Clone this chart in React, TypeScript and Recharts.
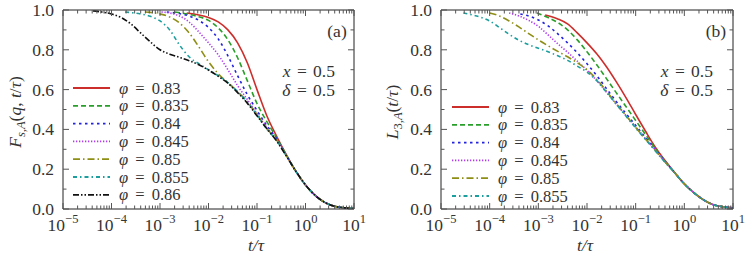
import React from "react"
import { LineChart, Line, XAxis, YAxis, Legend } from "recharts"

// points are [log10(t/tau), value]
type Pt = [number, number]

// panel (a): F_s,A(q, t/tau)
const tailA: Pt[] = [[-0.2, 0.19], [0, 0.121], [0.2, 0.068], [0.4, 0.033], [0.6, 0.014], [0.8, 0.006], [1.0, 0.002]]
const fsA083: Pt[] = [[-2.45, 0.985], [-2.2, 0.975], [-2.0, 0.962], [-1.8, 0.94], [-1.6, 0.9], [-1.4, 0.835], [-1.2, 0.735], [-1.0, 0.6], [-0.8, 0.47], [-0.6, 0.368], [-0.4, 0.275]]
const fsA0835: Pt[] = [[-2.69, 0.99], [-2.4, 0.978], [-2.2, 0.966], [-2.0, 0.948], [-1.8, 0.91], [-1.6, 0.85], [-1.4, 0.76], [-1.2, 0.645], [-1.0, 0.53], [-0.8, 0.44], [-0.6, 0.36], [-0.4, 0.274]]
const fsA084: Pt[] = [[-2.86, 0.99], [-2.6, 0.982], [-2.4, 0.97], [-2.2, 0.948], [-2.0, 0.912], [-1.8, 0.855], [-1.6, 0.77], [-1.4, 0.67], [-1.2, 0.575], [-1.0, 0.495], [-0.8, 0.42], [-0.6, 0.355], [-0.4, 0.272]]
const fsA0845: Pt[] = [[-2.97, 0.99], [-2.8, 0.985], [-2.6, 0.97], [-2.4, 0.94], [-2.2, 0.89], [-2.0, 0.835], [-1.8, 0.775], [-1.6, 0.7], [-1.4, 0.62], [-1.2, 0.55], [-1.0, 0.48], [-0.8, 0.41], [-0.6, 0.35], [-0.4, 0.27]]
const fsA085: Pt[] = [[-3.31, 0.99], [-3.0, 0.98], [-2.8, 0.965], [-2.6, 0.935], [-2.4, 0.885], [-2.2, 0.815], [-2.0, 0.74], [-1.8, 0.68], [-1.6, 0.635], [-1.4, 0.59], [-1.2, 0.54], [-1.0, 0.475], [-0.8, 0.405], [-0.6, 0.348], [-0.4, 0.27]]
const fsA0855: Pt[] = [[-3.72, 0.99], [-3.4, 0.98], [-3.2, 0.968], [-3.0, 0.945], [-2.8, 0.9], [-2.6, 0.825], [-2.4, 0.765], [-2.2, 0.73], [-2.0, 0.7], [-1.8, 0.67], [-1.6, 0.635], [-1.4, 0.59], [-1.2, 0.537], [-1.0, 0.472], [-0.8, 0.402], [-0.6, 0.346], [-0.4, 0.27]]
const fsA086: Pt[] = [[-4.38, 0.995], [-4.2, 0.99], [-4.0, 0.98], [-3.8, 0.962], [-3.6, 0.93], [-3.4, 0.885], [-3.2, 0.84], [-3.0, 0.8], [-2.8, 0.778], [-2.6, 0.762], [-2.4, 0.745], [-2.2, 0.725], [-2.0, 0.698], [-1.8, 0.667], [-1.6, 0.632], [-1.4, 0.585], [-1.2, 0.532], [-1.0, 0.468], [-0.8, 0.405], [-0.6, 0.343], [-0.4, 0.268]]

// panel (b): L_3,A(t/tau)
const tailB: Pt[] = [[-0.2, 0.183], [0, 0.126], [0.2, 0.081], [0.4, 0.045], [0.6, 0.021], [0.8, 0.011], [1.0, 0.006]]
const l3A083: Pt[] = [[-2.86, 0.975], [-2.6, 0.955], [-2.4, 0.93], [-2.2, 0.885], [-2.0, 0.835], [-1.8, 0.78], [-1.6, 0.715], [-1.4, 0.64], [-1.2, 0.56], [-1.0, 0.475], [-0.8, 0.392], [-0.6, 0.312], [-0.4, 0.245]]
const l3A0835: Pt[] = [[-3.03, 0.985], [-2.8, 0.962], [-2.6, 0.937], [-2.4, 0.9], [-2.2, 0.85], [-2.0, 0.79], [-1.8, 0.725], [-1.6, 0.655], [-1.4, 0.585], [-1.2, 0.515], [-1.0, 0.445], [-0.8, 0.375], [-0.6, 0.305], [-0.4, 0.243]]
const l3A084: Pt[] = [[-3.37, 0.98], [-3.2, 0.97], [-3.0, 0.95], [-2.8, 0.92], [-2.6, 0.88], [-2.4, 0.835], [-2.2, 0.785], [-2.0, 0.73], [-1.8, 0.67], [-1.6, 0.605], [-1.4, 0.54], [-1.2, 0.48], [-1.0, 0.42], [-0.8, 0.36], [-0.6, 0.3], [-0.4, 0.24]]
const l3A0845: Pt[] = [[-3.6, 0.985], [-3.4, 0.97], [-3.2, 0.948], [-3.0, 0.918], [-2.8, 0.875], [-2.6, 0.83], [-2.4, 0.788], [-2.2, 0.743], [-2.0, 0.697], [-1.8, 0.645], [-1.6, 0.587], [-1.4, 0.527], [-1.2, 0.47], [-1.0, 0.413], [-0.8, 0.355], [-0.6, 0.297], [-0.4, 0.238]]
const l3A085: Pt[] = [[-4.0, 0.985], [-3.8, 0.97], [-3.6, 0.945], [-3.4, 0.915], [-3.2, 0.882], [-3.0, 0.85], [-2.8, 0.82], [-2.6, 0.792], [-2.4, 0.765], [-2.2, 0.735], [-2.0, 0.7], [-1.8, 0.652], [-1.6, 0.592], [-1.4, 0.53], [-1.2, 0.47], [-1.0, 0.41], [-0.8, 0.352], [-0.6, 0.295], [-0.4, 0.237]]
const l3A0855: Pt[] = [[-4.54, 0.985], [-4.4, 0.978], [-4.2, 0.965], [-4.0, 0.945], [-3.8, 0.912], [-3.6, 0.878], [-3.4, 0.848], [-3.2, 0.826], [-3.0, 0.808], [-2.8, 0.79], [-2.6, 0.77], [-2.4, 0.747], [-2.2, 0.718], [-2.0, 0.688], [-1.8, 0.645], [-1.6, 0.587], [-1.4, 0.527], [-1.2, 0.467], [-1.0, 0.407], [-0.8, 0.35], [-0.6, 0.293], [-0.4, 0.235]]

const PHI = ["0.83", "0.835", "0.84", "0.845", "0.85", "0.855", "0.86"]
const COLORS = ["#cc2f2b", "#2a9e2a", "#2323dd", "#b03cf0", "#8e8e16", "#1c9e9e", "#111111"]
const DASHES = ["", "5 3", "2.5 3.5", "1.3 1.7", "7 3 1.5 3", "4 3 1.5 3", "6 2 1.5 2 1.5 2"]

const seriesA = [fsA083, fsA0835, fsA084, fsA0845, fsA085, fsA0855, fsA086].map((s) => [...s, ...tailA])
const seriesB = [l3A083, l3A0835, l3A084, l3A0845, l3A085, l3A0855].map((s) => [...s, ...tailB])

const DECADES = [-5, -4, -3, -2, -1, 0, 1]
const X_TICKS = DECADES.flatMap((d) => (d < 1 ? [1, 2, 3, 4, 5, 6, 7, 8, 9].map((m) => m * Math.pow(10, d)) : [Math.pow(10, d)]))
const Y_TICKS = [0, 0.1, 0.2, 0.3, 0.4, 0.5, 0.6, 0.7, 0.8, 0.9, 1.0]
const Y_LABELS = ["0.0", "0.2", "0.4", "0.6", "0.8", "1.0"]

const FONT = "'Liberation Serif', 'DejaVu Serif', serif"
const FS = 17.5
const LEG_FS = 16.5
const TICK_COLOR = "#555"
const FRAME = "#222"
const INK = "#333"

const toRows = (pts: Pt[]) => pts.map(([lt, v]) => ({ t: Math.pow(10, lt), v }))
const isDecade = (v: number) => Math.abs(Math.log10(v) - Math.round(Math.log10(v))) < 1e-6
const isMajorY = (v: number) => Math.abs(v * 5 - Math.round(v * 5)) < 1e-6

const BottomTick = (props: any) => {
  const { x, y, payload } = props
  const v = payload.value
  const major = isDecade(v)
  const e = Math.round(Math.log10(v))
  return (
    <g>
      <line x1={x} x2={x} y1={y} y2={y - (major ? 6 : 3.5)} stroke={TICK_COLOR} />
      {major && (
        <text x={x} y={y + 22} textAnchor="middle" fontFamily={FONT} fontSize={FS} fill={INK}>
          10
          <tspan dy={-8} fontSize={12.5}>{e < 0 ? `\u2212${-e}` : `${e}`}</tspan>
        </text>
      )}
    </g>
  )
}

const TopTick = (props: any) => {
  const { x, y, payload } = props
  const major = isDecade(payload.value)
  return <line x1={x} x2={x} y1={y} y2={y + (major ? 6 : 3.5)} stroke={TICK_COLOR} />
}

const LeftTick = (props: any) => {
  const { x, y, payload } = props
  const v = payload.value
  const major = isMajorY(v)
  return (
    <g>
      <line x1={x} x2={x + (major ? 6 : 3.5)} y1={y} y2={y} stroke={TICK_COLOR} />
      {major && (
        <text x={x - 9} y={y + 6} textAnchor="end" fontFamily={FONT} fontSize={FS} fill={INK}>
          {Y_LABELS[Math.round(v * 5)]}
        </text>
      )}
    </g>
  )
}

const RightTick = (props: any) => {
  const { x, y, payload } = props
  const major = isMajorY(payload.value)
  return <line x1={x} x2={x - (major ? 6 : 3.5)} y1={y} y2={y} stroke={TICK_COLOR} />
}

const makeLegend = (n: number, rowStart: number) => () => (
  <svg width={140} height={rowStart + 17.8 * n} style={{ overflow: "visible" }}>
    {PHI.slice(0, n).map((p, i) => {
      const y = rowStart + 17.8 * i
      return (
        <g key={p}>
          <line x1={3} x2={40} y1={y} y2={y} stroke={COLORS[i]} strokeWidth={1.8} strokeDasharray={DASHES[i] || undefined} />
          <text x={49} y={y + 5.5} fontFamily={FONT} fontSize={LEG_FS} fill={INK} wordSpacing={3}>
            <tspan fontStyle="italic">φ</tspan> = {p}
          </text>
        </g>
      )
    })}
  </svg>
)

type PanelProps = {
  series: Pt[][]
  width: number
  left: number
  right: number
  legendLeft: number
  legendTop: number
}

// plot area spans y 10..209 in both panels
const TOP = 10
const BOTTOM = 53

function Panel({ series, width, left, right, legendLeft, legendTop }: PanelProps) {
  return (
    <LineChart width={width} height={262} margin={{ top: 0, right: 0, bottom: 0, left: 0 }}>
      <XAxis
        xAxisId="b"
        dataKey="t"
        type="number"
        scale="log"
        domain={[1e-5, 10]}
        allowDataOverflow
        ticks={X_TICKS}
        interval={0}
        height={BOTTOM}
        tickSize={0}
        tickMargin={0}
        tickLine={false}
        tick={BottomTick}
        axisLine={{ stroke: FRAME }}
      />
      <XAxis
        xAxisId="t"
        orientation="top"
        dataKey="t"
        type="number"
        scale="log"
        domain={[1e-5, 10]}
        allowDataOverflow
        ticks={X_TICKS}
        interval={0}
        height={TOP}
        tickSize={0}
        tickMargin={0}
        tickLine={false}
        tick={TopTick}
        axisLine={{ stroke: FRAME }}
      />
      <YAxis
        yAxisId="l"
        type="number"
        domain={[0, 1]}
        allowDataOverflow
        ticks={Y_TICKS}
        interval={0}
        width={left}
        tickSize={0}
        tickMargin={0}
        tickLine={false}
        tick={LeftTick}
        axisLine={{ stroke: FRAME }}
      />
      <YAxis
        yAxisId="r"
        orientation="right"
        type="number"
        domain={[0, 1]}
        allowDataOverflow
        ticks={Y_TICKS}
        interval={0}
        width={right}
        tickSize={0}
        tickMargin={0}
        tickLine={false}
        tick={RightTick}
        axisLine={{ stroke: FRAME }}
      />
      {series.map((s, i) => (
        <Line
          key={PHI[i]}
          name={`φ = ${PHI[i]}`}
          xAxisId="b"
          yAxisId="l"
          data={toRows(s)}
          dataKey="v"
          type="monotone"
          stroke={COLORS[i]}
          strokeWidth={1.6}
          strokeDasharray={DASHES[i] || undefined}
          dot={false}
          isAnimationActive={false}
        />
      ))}
      <Legend
        layout="vertical"
        align="center"
        verticalAlign="middle"
        content={makeLegend(series.length, 10)}
        wrapperStyle={{ left: legendLeft, top: legendTop, width: 140 }}
      />
    </LineChart>
  )
}

const txt = { fontFamily: FONT, fontSize: FS, fill: INK } as const
const SUB = 12.5

export default function App() {
  return (
    <div style={{ position: "absolute", left: 0, top: 0, width: 747, height: 262, background: "#fff" }}>
      <div style={{ position: "absolute", left: 0, top: 0 }}>
        <Panel series={seriesA} width={375} left={63} right={21} legendLeft={70} legendTop={78} />
      </div>
      <div style={{ position: "absolute", left: 375, top: 0 }}>
        <Panel series={seriesB} width={372} left={66} right={14} legendLeft={74} legendTop={96.5} />
      </div>
      <svg width={747} height={262} style={{ position: "absolute", left: 0, top: 0, pointerEvents: "none" }}>
        {/* panel (a) texts */}
        <text {...txt} x={337} y={37} textAnchor="middle">(a)</text>
        <text {...txt} x={335} y={77} textAnchor="end" wordSpacing={2}><tspan fontStyle="italic">x</tspan> = 0.5</text>
        <text {...txt} x={335} y={96} textAnchor="end" wordSpacing={2}><tspan fontStyle="italic">δ</tspan> = 0.5</text>
        <text {...txt} x={256} y={251} textAnchor="middle" fontStyle="italic">t/τ</text>
        <text {...txt} transform="rotate(-90)" x={-112} y={21} textAnchor="middle">
          <tspan fontStyle="italic">F</tspan>
          <tspan fontSize={SUB} dy={4} fontStyle="italic">s</tspan>
          <tspan fontSize={SUB}>,</tspan>
          <tspan fontSize={SUB} fontStyle="italic">A</tspan>
          <tspan dy={-4}>(</tspan>
          <tspan fontStyle="italic">q</tspan>
          <tspan>, </tspan>
          <tspan fontStyle="italic">t</tspan>
          <tspan>/</tspan>
          <tspan fontStyle="italic">τ</tspan>
          <tspan>)</tspan>
        </text>
        {/* panel (b) texts */}
        <text {...txt} x={716} y={37} textAnchor="middle">(b)</text>
        <text {...txt} x={713} y={77} textAnchor="end" wordSpacing={2}><tspan fontStyle="italic">x</tspan> = 0.5</text>
        <text {...txt} x={713} y={96} textAnchor="end" wordSpacing={2}><tspan fontStyle="italic">δ</tspan> = 0.5</text>
        <text {...txt} x={585} y={251} textAnchor="middle" fontStyle="italic">t/τ</text>
        <text {...txt} transform="rotate(-90)" x={-112} y={398} textAnchor="middle">
          <tspan fontStyle="italic">L</tspan>
          <tspan fontSize={SUB} dy={4}>3,</tspan>
          <tspan fontSize={SUB} fontStyle="italic">A</tspan>
          <tspan dy={-4}>(</tspan>
          <tspan fontStyle="italic">t</tspan>
          <tspan>/</tspan>
          <tspan fontStyle="italic">τ</tspan>
          <tspan>)</tspan>
        </text>
      </svg>
    </div>
  )
}
